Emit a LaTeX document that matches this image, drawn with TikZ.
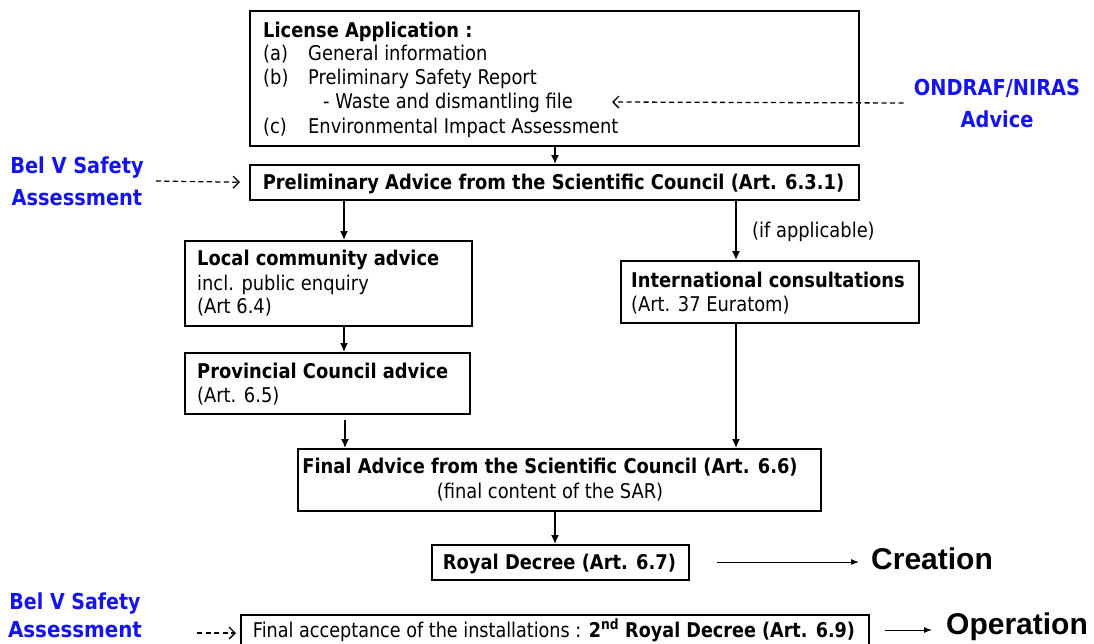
\documentclass[tikz,border=0pt]{standalone}
\usepackage{fontspec}
\setmainfont{DejaVu Sans}[FakeStretch=0.88]
\newfontfamily\headfont{Liberation Sans}
\usetikzlibrary{arrows.meta}
\definecolor{adviceblue}{RGB}{20,20,235}
\begin{document}
\begin{tikzpicture}[x=1pt,y=-1pt,
  box/.style={draw,line width=1.5pt,anchor=north west,inner sep=0pt},
  txt/.style={anchor=base west,inner sep=0pt,font=\fontsize{20.3}{24}\selectfont},
  ctxt/.style={anchor=base,inner sep=0pt,font=\fontsize{20.3}{24}\selectfont},
  blue/.style={text=adviceblue,font=\fontsize{22}{32}\selectfont\bfseries,align=center,inner sep=0pt},
  big/.style={font=\headfont\fontsize{30}{30}\selectfont\bfseries,inner sep=0pt,anchor=west},
  arr/.style={line width=1.4pt,-{Latex[length=9pt,width=8pt]}},
  thinarr/.style={line width=1pt,-{Latex[length=8pt,width=6pt]}},
  dsh/.style={line width=1.3pt,dash pattern=on 5pt off 3.5pt,-{Straight Barb[length=6pt,width=12pt]}}]
\useasboundingbox (0,0) rectangle (1094,643);

% boxes
\node[box,minimum width=609,minimum height=135] (lic)  at (249,10)  {};
\node[box,minimum width=609,minimum height=35]  (pre)  at (249,164) {};
\node[box,minimum width=287,minimum height=85]  (loc)  at (184,240) {};
\node[box,minimum width=298,minimum height=62]  (intl) at (620,260) {};
\node[box,minimum width=285,minimum height=61]  (prov) at (184,352) {};
\node[box,minimum width=523,minimum height=62]  (fin)  at (297,448) {};
\node[box,minimum width=257,minimum height=35]  (roy)  at (431,544) {};
\node[box,minimum width=628,minimum height=34]  (acc)  at (240,614) {};

% license application
\node[txt] (lichead) at (263,37) {\bfseries License Application :};
\node[txt] (la) at (263,60)  {(a)};
\node[txt] (lat) at (308,60) {General information};
\node[txt] (lb) at (263,84)  {(b)};
\node[txt] (lbt) at (308,84) {Preliminary Safety Report};
\node[txt] (lbw) at (323,108) {- Waste and dismantling file};
\node[txt] (lc) at (263,133) {(c)};
\node[txt] (lct) at (308,133) {Environmental Impact Assessment};

\node[ctxt] (pret) at (553.5,189) {\bfseries Preliminary Advice from the Scientific Council (Art. 6.3.1)};

\node[txt] (loct) at (197,265) {\bfseries Local community advice};
\node[txt] (loc2) at (197,290) {incl. public enquiry};
\node[txt] (loc3) at (197,313) {(Art 6.4)};

\node[txt] (intt) at (631,287) {\bfseries International consultations};
\node[txt] (int2) at (631,311) {(Art. 37 Euratom)};

\node[txt] (provt) at (197,378) {\bfseries Provincial Council advice};
\node[txt] (prov2) at (197,402) {(Art. 6.5)};

\node[ctxt] (fint) at (550,473) {\bfseries Final Advice from the Scientific Council (Art. 6.6)};
\node[ctxt] (fin2) at (550,498) {(final content of the SAR)};

\node[ctxt] (royt) at (559.5,569) {\bfseries Royal Decree (Art. 6.7)};

\node[txt] (ifapp) at (752,237) {(if applicable)};

\node[ctxt] (acct) at (554,637) {\resizebox{602pt}{\height}{Final acceptance of the installations : \textbf{2\textsuperscript{nd} Royal Decree (Art. 6.9)}}};

% side labels
\node[blue] (ond) at (997,103) {ONDRAF/NIRAS\\Advice};
\node[blue] (belv) at (77,181) {Bel V Safety\\Assessment};
\node[blue,font=\fontsize{22}{28}\selectfont\bfseries] (belv2) at (75,615) {\resizebox{131pt}{\height}{Bel V Safety}\\\resizebox{134pt}{\height}{Assessment}};

\node[big] (creat) at (871,559) {Creation};
\node[big] (oper) at (946,627) {Operation};

% connector columns
\coordinate (cL) at (344,0);
\coordinate (cR) at (736,0);
\coordinate (cM) at (555,0);
\coordinate (provout) at (345,420);
\coordinate (wtip) at (612,102);
\coordinate (cstart) at (717,562);
\coordinate (ostart) at (885,630);
\coordinate (b2start) at (197,633);
\coordinate (b2end) at (236,633);

% solid connectors
\draw[arr] (lic.south -| cM) -- (pre.north -| cM);
\draw[arr] (pre.south -| cL) -- (loc.north -| cL);
\draw[arr] (pre.south -| cR) -- (intl.north -| cR);
\draw[arr] (loc.south -| cL) -- (prov.north -| cL);
\draw[arr] (provout) -- (fin.north -| provout);
\draw[arr] (intl.south -| cR) -- (fin.north -| cR);
\draw[arr] (fin.south -| cM) -- (roy.north -| cM);
\draw[thinarr] (cstart) -- ([xshift=-12pt]creat.west |- cstart);
\draw[thinarr] (ostart) -- ([xshift=-14pt]oper.west |- ostart);

% dashed advice inputs
\draw[dsh] ([xshift=-10pt]ond.west) -- (wtip);
\draw[dsh] ([xshift=12pt]belv.east) -- ([xshift=-9pt]pre.west);
\draw[dsh] (b2start) -- (b2end);
\end{tikzpicture}
\end{document}
